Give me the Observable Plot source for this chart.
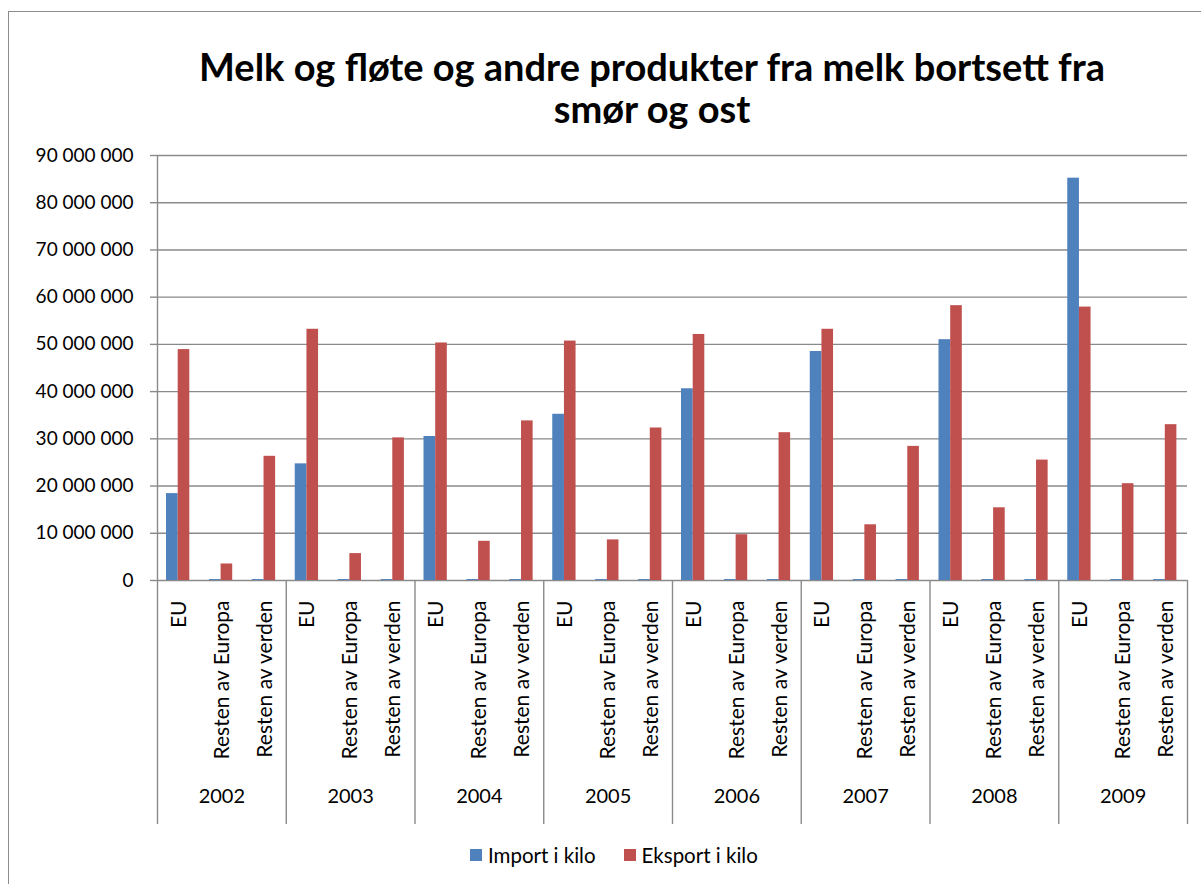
<!DOCTYPE html>
<html>
<head>
<meta charset="utf-8">
<script src="https://cdn.jsdelivr.net/npm/d3@7"></script>
<script src="https://cdn.jsdelivr.net/npm/@observablehq/plot@0.6"></script>
<style>
  html, body { margin: 0; padding: 0; background: #fff; width: 1201px; height: 884px; overflow: hidden; }
  #frame { position: absolute; left: 8px; top: 11px; width: 1400px; height: 1000px;
           border-left: 1.5px solid #8c8c8c; border-top: 1.5px solid #8c8c8c; z-index: 2; pointer-events: none; }
  #chart { position: absolute; left: 0; top: 0; z-index: 1; }
  #title { position: absolute; left: 102px; width: 1100px; top: 45px; text-align: center; z-index: 3;
           font-family: Lato, sans-serif; font-weight: 700; font-size: 38px; line-height: 42px; color: #000; }
  #legend { position: absolute; top: 843px; left: 470px; z-index: 3; font-family: Lato, sans-serif; font-size: 20.5px; color: #000;
            display: flex; align-items: center; white-space: nowrap; }
  .sw { display: inline-block; width: 12px; height: 12px; margin-right: 6px; }
  .item { display: flex; align-items: center; margin-right: 28px; }
</style>
</head>
<body>
<div id="frame"></div>
<div id="chart"></div>
<div id="title">Melk og fløte og andre produkter fra melk bortsett fra<br>smør og ost</div>
<div id="legend"></div>
<script>
const years = ["2002", "2003", "2004", "2005", "2006", "2007", "2008", "2009"];
const regions = ["EU", "Resten av Europa", "Resten av verden"];
const seriesNames = ["Import i kilo", "Eksport i kilo"];
const seriesColors = ["#4F81BD", "#C0504D"];
const yTicks = [0, 10000000, 20000000, 30000000, 40000000, 50000000, 60000000, 70000000, 80000000, 90000000];

// values per year, in order EU, Resten av Europa, Resten av verden
const importKilo = [
  [18400000, 200000, 200000],
  [24700000, 200000, 200000],
  [30500000, 200000, 200000],
  [35200000, 200000, 200000],
  [40600000, 200000, 200000],
  [48500000, 200000, 200000],
  [51000000, 200000, 200000],
  [85200000, 200000, 200000]
];
const eksportKilo = [
  [48900000, 3500000, 26300000],
  [53200000, 5700000, 30200000],
  [50300000, 8300000, 33800000],
  [50700000, 8600000, 32300000],
  [52100000, 9700000, 31300000],
  [53200000, 11800000, 28400000],
  [58200000, 15400000, 25500000],
  [57900000, 20500000, 33000000]
];

const key = (y, r) => y + "|" + r;
const cats = years.flatMap(y => regions.map(r => key(y, r)));
const rows = [];
years.forEach((y, i) => regions.forEach((r, j) => {
  rows.push({cat: key(y, r), series: seriesNames[0], value: importKilo[i][j]});
  rows.push({cat: key(y, r), series: seriesNames[1], value: eksportKilo[i][j]});
}));

const W = 1201, H = 884, ML = 157, MR = 14, MT = 155, MB = 304;
const bw = (W - ML - MR) / cats.length;
const fmt = d => d3.format(",")(d).replace(/,/g, " ");
const grid = "#8a8a8a";

const chart = Plot.plot({
  width: W, height: H,
  marginLeft: ML, marginRight: MR, marginTop: MT, marginBottom: MB,
  style: {background: "transparent", fontFamily: "Lato, sans-serif", fontSize: "19px", color: "#000"},
  x: {type: "band", domain: cats, padding: 0, round: false, axis: null},
  y: {domain: [0, 90000000], axis: null},
  marks: [
    Plot.gridY(yTicks, {stroke: grid, strokeOpacity: 1, strokeWidth: 1.4}),
    Plot.barY(rows.filter(d => d.series === seriesNames[0]), {x: "cat", y: "value", fill: seriesColors[0], insetLeft: 9, insetRight: bw - 20.7}),
    Plot.barY(rows.filter(d => d.series === seriesNames[1]), {x: "cat", y: "value", fill: seriesColors[1], insetLeft: 20.7, insetRight: bw - 32.3}),
    Plot.ruleX([cats[0]], {dx: -bw / 2, stroke: grid, strokeWidth: 1.4}),
    Plot.ruleX(years.map(y => key(y, regions[0])), {y1: 0, y2: 0, insetBottom: -244, dx: -bw / 2, stroke: grid, strokeWidth: 1.4}),
    Plot.ruleX([cats[cats.length - 1]], {y1: 0, y2: 0, insetBottom: -244, dx: bw / 2, stroke: grid, strokeWidth: 1.4}),
    Plot.axisY(yTicks, {tickSize: 7, tickPadding: 17, tickFormat: fmt, stroke: grid, strokeWidth: 1.4, fill: "#000", fontSize: 19, label: null}),
    Plot.axisX(cats, {tickSize: 0, tickPadding: 20, tickRotate: -90, tickFormat: d => d.split("|")[1], fontSize: 21, fill: "#000", label: null}),
    Plot.text(years, {x: y => key(y, regions[1]), text: d => d, frameAnchor: "bottom", dy: 222, fontSize: 20, fill: "#000"})
  ]
});
document.getElementById("chart").appendChild(chart);

const legend = document.getElementById("legend");
seriesNames.forEach((s, i) => {
  const it = document.createElement("span");
  it.className = "item";
  it.innerHTML = `<span class="sw" style="background:${seriesColors[i]}"></span>${s}`;
  legend.appendChild(it);
});
</script>
</body>
</html>
